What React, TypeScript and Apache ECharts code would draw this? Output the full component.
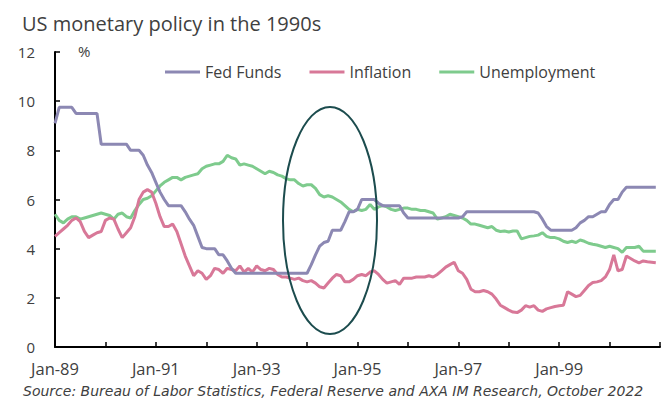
import React, { useEffect, useRef } from "react";
import * as echarts from "echarts";

const MONTH_NAMES = ["Jan", "Feb", "Mar", "Apr", "May", "Jun", "Jul", "Aug", "Sep", "Oct", "Nov", "Dec"];
const START_YEAR = 1989;
const END_YEAR = 2000;

// Monthly categories Jan-89 ... Dec-00, plus Jan-01 as the closing tick
const categories: string[] = [];
for (let y = START_YEAR; y <= END_YEAR; y++) {
  for (const m of MONTH_NAMES) categories.push(`${m}-${String(y % 100).padStart(2, "0")}`);
}
categories.push("Jan-01");

const yTicks = [0, 2, 4, 6, 8, 10, 12];

const fedFunds = [
  // 1989
  9.1, 9.75, 9.75, 9.75, 9.75, 9.5, 9.5, 9.5, 9.5, 9.5, 9.5, 8.25,
  // 1990
  8.25, 8.25, 8.25, 8.25, 8.25, 8.25, 8.0, 8.0, 8.0, 7.8, 7.4, 7.1,
  // 1991
  6.7, 6.3, 6.0, 5.75, 5.75, 5.75, 5.75, 5.5, 5.2, 4.95, 4.5, 4.05,
  // 1992
  4.0, 4.0, 4.0, 3.75, 3.75, 3.5, 3.2, 3.0, 3.0, 3.0, 3.0, 3.0,
  // 1993
  3.0, 3.0, 3.0, 3.0, 3.0, 3.0, 3.0, 3.0, 3.0, 3.0, 3.0, 3.0,
  // 1994
  3.0, 3.35, 3.75, 4.1, 4.25, 4.3, 4.75, 4.75, 4.75, 5.1, 5.5, 5.5,
  // 1995
  5.6, 6.0, 6.0, 6.0, 6.0, 5.85, 5.75, 5.75, 5.75, 5.75, 5.75, 5.45,
  // 1996
  5.25, 5.25, 5.25, 5.25, 5.25, 5.25, 5.25, 5.25, 5.25, 5.25, 5.25, 5.25,
  // 1997
  5.25, 5.3, 5.5, 5.5, 5.5, 5.5, 5.5, 5.5, 5.5, 5.5, 5.5, 5.5,
  // 1998
  5.5, 5.5, 5.5, 5.5, 5.5, 5.5, 5.5, 5.45, 5.2, 4.9, 4.75, 4.75,
  // 1999
  4.75, 4.75, 4.75, 4.75, 4.85, 5.05, 5.15, 5.3, 5.3, 5.4, 5.5, 5.5,
  // 2000
  5.8, 6.0, 6.0, 6.3, 6.5, 6.5, 6.5, 6.5, 6.5, 6.5, 6.5, 6.5,
];

const inflation = [
  // 1989
  4.5, 4.65, 4.8, 4.95, 5.15, 5.25, 5.1, 4.7, 4.45, 4.55, 4.65, 4.7,
  // 1990
  5.15, 5.25, 5.2, 4.8, 4.45, 4.65, 4.85, 5.3, 6.0, 6.3, 6.4, 6.3,
  // 1991
  5.85, 5.3, 4.9, 4.9, 5.0, 4.7, 4.2, 3.7, 3.3, 2.9, 3.1, 3.0,
  // 1992
  2.75, 2.9, 3.2, 3.15, 3.0, 3.2, 3.15, 3.1, 3.3, 3.05, 3.2, 3.05,
  // 1993
  3.3, 3.15, 3.1, 3.2, 3.15, 2.95, 2.85, 2.85, 2.8, 2.75, 2.8, 2.7,
  // 1994
  2.65, 2.7, 2.6, 2.45, 2.4, 2.6, 2.8, 2.95, 2.9, 2.65, 2.65, 2.75,
  // 1995
  2.9, 2.95, 2.9, 3.05, 3.1, 2.95, 2.75, 2.6, 2.65, 2.7, 2.55, 2.8,
  // 1996
  2.8, 2.8, 2.85, 2.85, 2.85, 2.9, 2.85, 2.95, 3.1, 3.25, 3.35, 3.45,
  // 1997
  3.1, 3.0, 2.75, 2.35, 2.25, 2.25, 2.3, 2.25, 2.15, 1.95, 1.7, 1.6,
  // 1998
  1.5, 1.42, 1.4, 1.5, 1.68, 1.62, 1.68, 1.5, 1.45, 1.55, 1.6, 1.65,
  // 1999
  1.68, 1.7, 2.25, 2.15, 2.05, 2.1, 2.3, 2.5, 2.62, 2.65, 2.7, 2.85,
  // 2000
  3.15, 3.75, 3.1, 3.15, 3.7, 3.6, 3.5, 3.42, 3.5, 3.47, 3.45, 3.43,
];

const unemployment = [
  // 1989
  5.4, 5.15, 5.05, 5.2, 5.3, 5.3, 5.2, 5.25, 5.3, 5.35, 5.4, 5.45,
  // 1990
  5.4, 5.35, 5.2, 5.4, 5.45, 5.3, 5.25, 5.55, 5.8, 6.0, 6.05, 6.15,
  // 1991
  6.35, 6.55, 6.7, 6.8, 6.9, 6.9, 6.8, 6.9, 6.95, 7.0, 7.05, 7.25,
  // 1992
  7.35, 7.4, 7.45, 7.45, 7.55, 7.8, 7.7, 7.65, 7.4, 7.45, 7.4, 7.35,
  // 1993
  7.25, 7.15, 7.05, 7.15, 7.1, 7.0, 6.95, 6.85, 6.8, 6.8, 6.65, 6.55,
  // 1994
  6.6, 6.6, 6.45, 6.2, 6.1, 6.15, 6.1, 6.0, 5.9, 5.75, 5.6, 5.5,
  // 1995
  5.6, 5.55, 5.6, 5.8, 5.6, 5.7, 5.75, 5.7, 5.6, 5.55, 5.6, 5.65,
  // 1996
  5.65, 5.6, 5.6, 5.55, 5.55, 5.5, 5.45, 5.2, 5.25, 5.3, 5.4, 5.35,
  // 1997
  5.3, 5.25, 5.15, 5.0, 5.0, 4.95, 4.9, 4.85, 4.9, 4.75, 4.7, 4.72,
  // 1998
  4.68, 4.72, 4.72, 4.4, 4.45, 4.5, 4.52, 4.55, 4.65, 4.5, 4.45, 4.45,
  // 1999
  4.4, 4.3, 4.25, 4.3, 4.25, 4.35, 4.3, 4.22, 4.18, 4.15, 4.1, 4.05,
  // 2000
  4.1, 4.05, 4.0, 3.85, 4.05, 4.05, 4.05, 4.1, 3.9, 3.9, 3.9, 3.9,
];

const seriesNames = ["Fed Funds", "Inflation", "Unemployment"];
const seriesColors = ["#8C88B3", "#D87898", "#7ECB8D"];

const FONT = "'Open Sans', 'Noto Sans', sans-serif";
const SOURCE_FONT = "'DejaVu Sans', 'Open Sans', sans-serif";
const TEXT = "#404040";

export default function App() {
  const ref = useRef<HTMLDivElement>(null);

  useEffect(() => {
    if (!ref.current) return;
    const chart = echarts.init(ref.current, undefined, { renderer: "svg" });
    const data = [fedFunds, inflation, unemployment];
    chart.setOption({
      animation: false,
      backgroundColor: "#ffffff",
      title: {
        text: "US monetary policy in the 1990s",
        left: 17,
        top: 8,
        textStyle: { fontFamily: FONT, fontSize: 20, fontWeight: "normal", color: TEXT },
      },
      legend: {
        data: seriesNames,
        left: 160,
        top: 57,
        icon: "rect",
        itemWidth: 35,
        itemHeight: 3,
        itemGap: 28,
        textStyle: { fontFamily: FONT, fontSize: 16, color: TEXT, lineHeight: 20 },
      },
      grid: { left: 55, right: 3, top: 52, bottom: 54, containLabel: false },
      xAxis: {
        type: "category",
        data: categories,
        boundaryGap: false,
        axisLine: { show: true, lineStyle: { color: "#000", width: 2 } },
        axisTick: {
          show: true,
          inside: true,
          length: 5,
          interval: (i: number) => i % 12 === 0,
          lineStyle: { color: "#000", width: 1.5 },
        },
        axisLabel: {
          interval: (i: number) => i % 24 === 0 && i < categories.length - 1,
          fontFamily: FONT,
          fontSize: 16.5,
          lineHeight: 17,
          color: TEXT,
          margin: 13,
        },
        splitLine: { show: false },
      },
      yAxis: {
        type: "value",
        min: yTicks[0],
        max: yTicks[yTicks.length - 1],
        interval: 2,
        axisLine: { show: true, lineStyle: { color: "#000", width: 2 } },
        axisTick: { show: true, inside: true, length: 5, lineStyle: { color: "#000", width: 1.5 } },
        axisLabel: { fontFamily: FONT, fontSize: 15, color: TEXT, margin: 20 },
        splitLine: { show: false },
      },
      series: seriesNames.map((name, i) => ({
        name,
        type: "line",
        data: data[i],
        showSymbol: false,
        symbol: "none",
        smooth: false,
        color: seriesColors[i],
        lineStyle: { color: seriesColors[i], width: 3 },
        z: i === 0 ? 4 : i === 1 ? 3 : 2,
      })),
      graphic: [
        {
          type: "text",
          left: 78,
          top: 43,
          style: { text: "%", fontFamily: FONT, fontSize: 15, fill: TEXT },
        },
        {
          type: "ellipse",
          shape: { cx: 330, cy: 220.5, rx: 47, ry: 113.5 },
          style: { fill: "none", stroke: "#1C4C4E", lineWidth: 2 },
          z: 10,
        },
        {
          type: "text",
          left: 23,
          top: 382,
          style: {
            text: "Source: Bureau of Labor Statistics, Federal Reserve and AXA IM Research, October 2022",
            fontFamily: SOURCE_FONT,
            fontStyle: "italic",
            fontSize: 14,
            lineHeight: 17,
            fill: TEXT,
          },
        },
      ],
    });
    return () => chart.dispose();
  }, []);

  return (
    <div
      ref={ref}
      style={{ position: "fixed", left: 0, top: 0, width: 663, height: 401, background: "#fff" }}
    />
  );
}
